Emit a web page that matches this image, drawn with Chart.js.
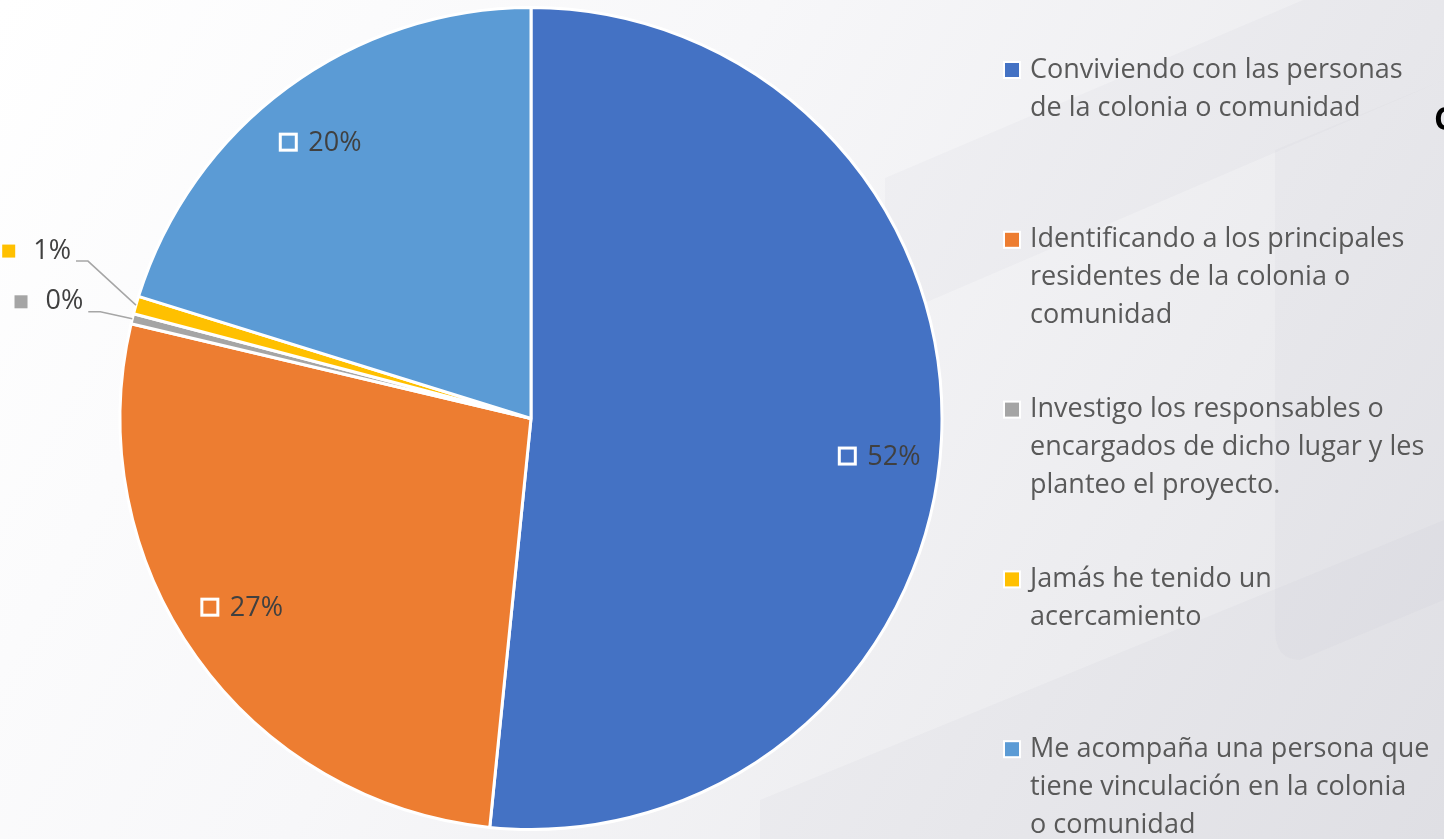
<!DOCTYPE html>
<html>
<head>
<meta charset="utf-8">
<script src="https://cdn.jsdelivr.net/npm/chart.js@4.4.1/dist/chart.umd.min.js"></script>
<style>
  html, body { margin: 0; padding: 0; width: 1444px; height: 839px; overflow: hidden; }
  body { background: linear-gradient(120deg, #ffffff 0%, #f7f7f9 40%, #ececef 75%, #e4e4e8 100%); position: relative; font-family: "Open Sans", sans-serif; }
  #wrap { position: absolute; left: 0; top: 0; width: 1444px; height: 839px; }
  #cut { position: absolute; left: 1434px; top: 96px; font: bold 32px "Open Sans", sans-serif; color: #000; white-space: nowrap; }
</style>
</head>
<body>
<div id="wrap"><canvas id="c" width="1444" height="839"></canvas></div>
<div id="cut">C</div>
<script>
const categories = [
  ["Conviviendo con las personas", "de la colonia o comunidad"],
  ["Identificando a los principales", "residentes de la colonia o", "comunidad"],
  ["Investigo los responsables o", "encargados de dicho lugar y les", "planteo el proyecto."],
  ["Jamás he tenido un", "acercamiento"],
  ["Me acompaña una persona que", "tiene vinculación en la colonia", "o comunidad"]
];
const values = [51.6, 27.1, 0.4, 0.7, 20.2];
const colors = ["#4472C4", "#ED7D31", "#A5A5A5", "#FFC000", "#5B9BD5"];

const watermark = {
  id: 'watermark',
  beforeDraw(chart) {
    const ctx = chart.ctx;
    ctx.save();
    ctx.fillStyle = 'rgba(120,120,140,0.035)';
    ctx.beginPath();
    ctx.moveTo(885, 178); ctx.lineTo(1444, -60); ctx.lineTo(1444, 80); ctx.lineTo(885, 320); ctx.closePath();
    ctx.fill();
    ctx.beginPath();
    ctx.moveTo(760, 800); ctx.lineTo(1444, 520); ctx.lineTo(1444, 839); ctx.lineTo(760, 839); ctx.closePath();
    ctx.fill();
    ctx.beginPath();
    ctx.moveTo(1275, 150); ctx.lineTo(1444, 80); ctx.lineTo(1444, 600); ctx.lineTo(1300, 660);
    ctx.quadraticCurveTo(1275, 660, 1275, 630); ctx.closePath();
    ctx.fill();
    ctx.restore();
  }
};

const labelsPlugin = {
  id: 'pieLabels',
  afterDatasetsDraw(chart, args, opts) {
    const ctx = chart.ctx;
    const meta = chart.getDatasetMeta(0);
    const data = chart.data.datasets[0].data;
    const total = data.reduce((a, b) => a + b, 0);
    ctx.save();
    ctx.font = '27px "Open Sans", sans-serif';
    ctx.textBaseline = 'middle';
    meta.data.forEach((arc, i) => {
      const p = arc.getProps(['x', 'y', 'startAngle', 'endAngle', 'outerRadius'], true);
      const mid = (p.startAngle + p.endAngle) / 2;
      const pct = data[i] / total * 100;
      const txt = Math.round(pct) + '%';
      const tw = ctx.measureText(txt).width;
      const color = chart.data.datasets[0].backgroundColor[i];
      if (pct >= 5) {
        const nudge = opts.nudge[i] || { dx: 0, dy: 0 };
        const cx = p.x + Math.cos(mid) * p.outerRadius * 0.85 + nudge.dx;
        const cy = p.y + Math.sin(mid) * p.outerRadius * 0.85 + nudge.dy;
        const box = 16, gap = 12;
        const w = box + gap + tw;
        const left = cx - w / 2;
        ctx.fillStyle = color;
        ctx.fillRect(left, cy - box / 2, box, box);
        ctx.strokeStyle = '#ffffff';
        ctx.lineWidth = 3;
        ctx.strokeRect(left, cy - box / 2, box, box);
        ctx.fillStyle = '#404040';
        ctx.textAlign = 'left';
        ctx.fillText(txt, left + box + gap, cy + 1);
      } else {
        const off = opts.outside[i] || { dx: -40, dy: -20 };
        const ex = p.x + Math.cos(mid) * p.outerRadius;
        const ey = p.y + Math.sin(mid) * p.outerRadius;
        const bx = ex + off.dx, by = ey + off.dy;
        const sx = bx - 12;
        ctx.strokeStyle = '#A6A6A6';
        ctx.lineWidth = 1.5;
        ctx.beginPath();
        ctx.moveTo(ex, ey); ctx.lineTo(bx, by); ctx.lineTo(sx, by);
        ctx.stroke();
        const tr = sx - 5;
        const ty = by - 10;
        ctx.fillStyle = '#404040';
        ctx.textAlign = 'right';
        ctx.fillText(txt, tr, ty);
        const mk = 13;
        ctx.fillStyle = color;
        ctx.fillRect(tr - tw - 18 - mk, ty - mk / 2, mk, mk);
      }
    });
    ctx.restore();
  }
};

const legendPlugin = {
  id: 'sideLegend',
  afterDraw(chart, args, opts) {
    const ctx = chart.ctx;
    const labels = chart.data.labels;
    const cols = chart.data.datasets[0].backgroundColor;
    ctx.save();
    ctx.font = opts.font;
    ctx.textBaseline = 'middle';
    ctx.textAlign = 'left';
    labels.forEach((lines, i) => {
      const y0 = opts.top + i * opts.itemGap;
      ctx.fillStyle = '#ffffff';
      ctx.fillRect(opts.x - 2, y0 - 9, 18, 18);
      ctx.fillStyle = cols[i];
      ctx.fillRect(opts.x, y0 - 7, 14, 14);
      ctx.fillStyle = '#595959';
      lines.forEach((ln, k) => ctx.fillText(ln, opts.x + 25, y0 + k * opts.lineHeight));
    });
    ctx.restore();
  }
};

new Chart(document.getElementById('c'), {
  type: 'pie',
  data: {
    labels: categories,
    datasets: [{
      data: values,
      backgroundColor: colors,
      borderColor: '#ffffff',
      borderWidth: 3
    }]
  },
  plugins: [watermark, labelsPlugin, legendPlugin],
  options: {
    responsive: false,
    animation: false,
    layout: { padding: { left: 118, right: 500, top: 6, bottom: 8 } },
    plugins: {
      legend: { display: false },
      tooltip: { enabled: false },
      pieLabels: {
        nudge: { 0: { dx: 0, dy: 20 }, 1: { dx: -4, dy: -14 }, 4: { dx: -3, dy: 5 } },
        outside: { 2: { dx: -32, dy: -7 }, 3: { dx: -48, dy: -44 } }
      },
      sideLegend: { x: 1005, top: 70, itemGap: 169.8, lineHeight: 38, font: '27px "Open Sans", sans-serif' }
    }
  }
});
</script>
</body>
</html>
